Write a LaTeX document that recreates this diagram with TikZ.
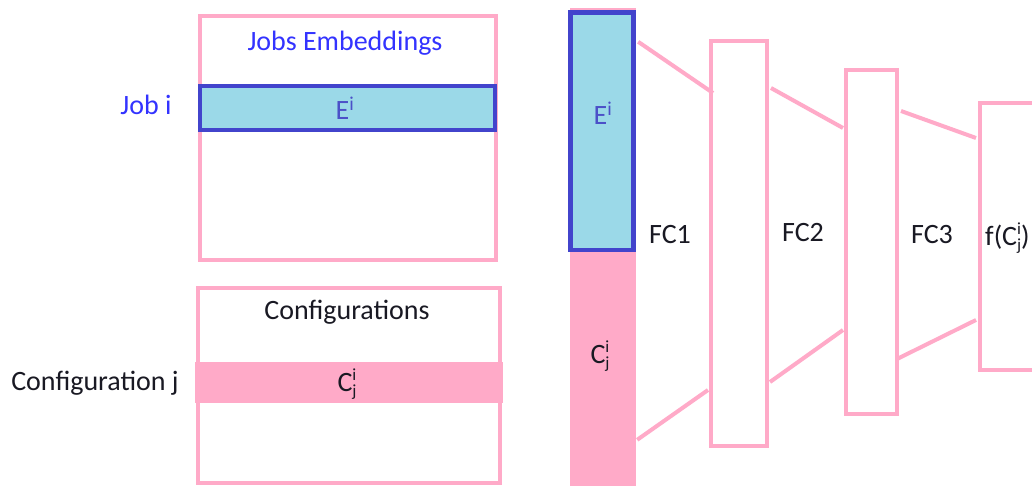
\documentclass[tikz,border=0pt]{standalone}
\usepackage{fontspec}
\setmainfont{Carlito}
\usetikzlibrary{calc}
\definecolor{pinkc}{RGB}{255,170,200}
\definecolor{cellblue}{RGB}{155,217,232}
\definecolor{edgeblue}{RGB}{66,68,204}
\definecolor{labelblue}{RGB}{51,51,255}
\definecolor{eblue}{RGB}{75,80,200}
\definecolor{ink}{RGB}{25,25,35}
% C with stacked superscript i and subscript j
\newcommand{\Cij}{C\raisebox{-5pt}{\vbox{\baselineskip=16pt\lineskiplimit=-50pt
  \hbox{\fontsize{17}{17}\selectfont i}\hbox{\fontsize{17}{17}\selectfont j}}}}
\begin{document}
\begin{tikzpicture}[x=1pt,y=-1pt,
  every node/.style={font=\fontsize{28}{34}\selectfont, text=ink, inner sep=0pt},
  panel/.style={draw=pinkc, line width=4pt, fill=white, rectangle},
  rowcell/.style={draw=edgeblue, line width=4.5pt, fill=cellblue, rectangle},
  band/.style={fill=pinkc, rectangle},
  link/.style={draw=pinkc, line width=4pt}]
\clip (0,0) rectangle (1032,486);
\fill[white] (0,0) rectangle (1032,486);

% embedding table
\node[panel, minimum width=296.5, minimum height=244] (jobs) at (347.75,138) {};
\node[text=labelblue] (jobstitle) at (345,43) {Jobs Embeddings};
\node[rowcell, minimum width=295, minimum height=44] (erow) at (347.5,108) {};
\node[text=eblue] (elabel) at (345,108) {E\textsuperscript{i}};
\node[text=labelblue] (jobi) at (146,105) {Job i};

% configuration table
\node[panel, minimum width=302.5, minimum height=195] (conf) at (348.75,385.5) {};
\node (conftitle) at (347,312) {Configurations};
\node[band, minimum width=308, minimum height=41] (crow) at (349,382.5) {};
\node (clabel) at (347,384) {\Cij};
\node (confj) at (95,383) {Configuration j};

% concatenated input vector
\node[band, minimum width=66, minimum height=478] (inc) at (603,247) {};
\node[rowcell, minimum width=63, minimum height=237.5] (ein) at (602,131.25) {};
\node[text=eblue] (einlabel) at (603,113) {E\textsuperscript{i}};
\node (cinlabel) at (600,356) {\Cij};

% fully connected layers
\node[panel, minimum width=56, minimum height=405] (fc1) at (739,243.5) {};
\node[panel, minimum width=51, minimum height=344] (fc2) at (871.5,242) {};
\node[panel, minimum width=100, minimum height=267] (out) at (1030,236.5) {};

% connections between layers
\draw[link] ($(inc.north east)+(2,34)$) -- ($(fc1.north west)+(4,54)$);
\draw[link] ($(inc.north east)+(1,432)$) -- ($(fc1.south west)+(-1,-58)$);
\draw[link] ($(fc1.north east)+(2,49)$) -- ($(fc2.north west)+(-1,60)$);
\draw[link] ($(fc1.south east)+(1,-66)$) -- ($(fc2.south west)+(-1,-86)$);
\draw[link] ($(fc2.north east)+(2,43)$) -- ($(out.north west)+(-2,37)$);
\draw[link] ($(fc2.south east)+(-2,-57)$) -- ($(out.south west)+(-2,-52)$);

% layer labels
\node (fc1label) at (670,235) {FC1};
\node (fc2label) at (803,233) {FC2};
\node (fc3label) at (932,235) {FC3};
\node[anchor=west] (outlabel) at (985,238) {f(\Cij)};
\end{tikzpicture}
\end{document}
